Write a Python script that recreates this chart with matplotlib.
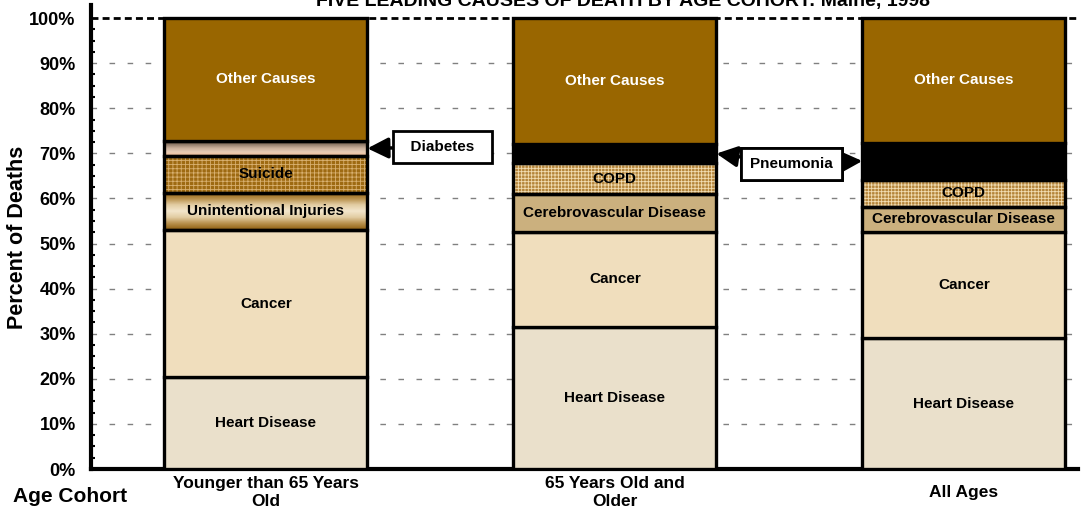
import numpy as np
import matplotlib
matplotlib.use("Agg")
import matplotlib.pyplot as plt
from matplotlib.colors import LinearSegmentedColormap

plt.rcParams['font.family'] = ['Liberation Sans', 'DejaVu Sans']
plt.rcParams['hatch.linewidth'] = 0.6

# ---------------- data ----------------
categories = ["Younger than 65 Years\nOld", "65 Years Old and\nOlder", "All Ages"]
series_names = ["Heart Disease", "Cancer", "Unintentional Injuries",
                "Cerebrovascular Disease", "Suicide", "COPD",
                "Diabetes", "Pneumonia", "Other Causes"]
heart = [20.3, 31.6, 29.0]
cancer = [32.7, 21.0, 23.6]
unintentional = [8.3, 0.0, 0.0]
cerebro = [0.0, 8.3, 5.6]
suicide = [8.1, 0.0, 0.0]
copd = [0.0, 6.9, 6.0]
diabetes = [3.4, 0.0, 0.0]
pneumonia = [0.0, 4.3, 8.2]
other = [27.2, 27.9, 27.6]
yticks = [0, 10, 20, 30, 40, 50, 60, 70, 80, 90, 100]
title = "FIVE LEADING CAUSES OF DEATH BY AGE COHORT: Maine, 1998"

values = [heart, cancer, unintentional, cerebro, suicide, copd,
          diabetes, pneumonia, other]

# ---------------- styles ----------------
styles = {
    "Heart Disease": dict(fc="#EAE0CB"),
    "Cancer": dict(fc="#F0DEBD"),
    "Unintentional Injuries": dict(grad=["#8E5E10", "#B8904C", "#E2CCA2", "#F3E6CC",
                                          "#E2CCA2", "#B8904C", "#8E5E10"]),
    "Cerebrovascular Disease": dict(fc="#CBB07E"),
    "Suicide": dict(fc="#9E6A12", hatch="++++", hc="#D8B070"),
    "COPD": dict(fc="#B4843A", hatch="+++++", hc="#F2DDB2"),
    "Diabetes": dict(grad=["#5E4A3C", "#8C7664", "#C8AE9A", "#E8CDB6", "#F4BE96"]),
    "Pneumonia": dict(fc="#000000"),
    "Other Causes": dict(fc="#996600", tc="white"),
}
labelled = {"Heart Disease", "Cancer", "Unintentional Injuries",
            "Cerebrovascular Disease", "Suicide", "COPD", "Other Causes"}

fig = plt.figure(figsize=(10.81, 5.15), dpi=100)
ax = fig.add_axes([91 / 1081, 46 / 515, 987 / 1081, 464 / 515])

x = np.arange(len(categories))
width = 0.582
bottom = np.zeros(len(categories))
edge_lw = 2.4
centers = {}

for name, vals in zip(series_names, values):
    vals = np.array(vals, dtype=float)
    st = styles[name]
    idx = np.where(vals > 0)[0]
    if len(idx) == 0:
        continue
    xs, hs, bs = x[idx], vals[idx], bottom[idx]
    if "hatch" in st:
        ax.bar(xs, hs, width, bottom=bs, color=st["fc"], edgecolor=st["hc"],
               hatch=st["hatch"], linewidth=0, zorder=2)
        ax.bar(xs, hs, width, bottom=bs, fill=False, edgecolor="black",
               linewidth=edge_lw, zorder=3)
    elif "grad" in st:
        cont = ax.bar(xs, hs, width, bottom=bs, color="none", edgecolor="black",
                      linewidth=edge_lw, zorder=3)
        cmap = LinearSegmentedColormap.from_list(name, st["grad"])
        for p in cont.patches:
            im = ax.imshow(np.linspace(0, 1, 64).reshape(-1, 1), cmap=cmap,
                           extent=[p.get_x(), p.get_x() + p.get_width(),
                                   p.get_y(), p.get_y() + p.get_height()],
                           origin="upper", aspect="auto", zorder=2)
            im.set_clip_path(p)
    else:
        ax.bar(xs, hs, width, bottom=bs, color=st["fc"], edgecolor="black",
               linewidth=edge_lw, zorder=3)
    for i in idx:
        centers[(name, i)] = bottom[i] + vals[i] / 2
        if name in labelled:
            ax.text(x[i], bottom[i] + vals[i] / 2, name, ha="center", va="center",
                    fontsize=11, fontweight="bold", color=st.get("tc", "black"),
                    zorder=5)
    bottom = bottom + vals

# ---------------- axes ----------------
ax.set_xlim(-0.501, 2.327)
ax.set_ylim(0, 102.9)
ax.set_yticks(yticks)
ax.set_yticklabels([f"{t}%" for t in yticks], fontsize=13, fontweight="bold")
ax.set_yticks(np.arange(0, 101, 2.5), minor=True)
ax.tick_params(axis="y", which="major", length=0, pad=11)
ax.tick_params(axis="y", which="minor", direction="in", length=3, width=1.5)
ax.set_xticks(x)
ax.set_xticklabels(categories, fontsize=12.5, fontweight="bold", linespacing=1.2)
for lab in ax.get_xticklabels():
    lab.set_va("center")
ax.tick_params(axis="x", length=0, pad=17)

for s in ["top", "right"]:
    ax.spines[s].set_visible(False)
ax.spines["left"].set_linewidth(3)
ax.spines["bottom"].set_linewidth(3)

for t in yticks[1:-1]:
    ax.axhline(t, color="#808080", lw=1.0, linestyle=(0, (4, 9)), zorder=1)
ax.axhline(100, color="black", lw=2.0, linestyle=(0, (2.5, 1.5)), zorder=1)

ax.set_ylabel("Percent of Deaths", fontsize=15.5, fontweight="bold")
ax.yaxis.set_label_coords(-0.064, 0.50)
fig.text(70 / 1081, (515 - 497) / 515, "Age Cohort", ha="center", va="center",
         fontsize=15, fontweight="bold")
fig.text(623 / 1081, (515 - 6) / 515, title, ha="center", va="baseline",
         fontsize=14, fontweight="bold")

# ---------------- callouts ----------------
box = dict(boxstyle="square,pad=0.6", fc="white", ec="black", lw=2)
arrow = dict(arrowstyle="-|>,head_length=0.9,head_width=0.45", color="black",
             lw=2.5, shrinkA=0, shrinkB=0, mutation_scale=14)
ax.annotate("  Diabetes  ", xy=(x[0] + width / 2, centers[("Diabetes", 0)]),
            xytext=(0.507, 71.4), ha="center", va="center", fontsize=11,
            fontweight="bold", bbox=box, arrowprops=arrow, zorder=6)
for i in (1, 2):
    edge = x[i] + width / 2 if i == 1 else x[i] - width / 2
    ax.annotate("Pneumonia", xy=(edge, centers[("Pneumonia", i)]),
                xytext=(1.505, 67.6), ha="center", va="center", fontsize=11,
                fontweight="bold", bbox=box, arrowprops=arrow, zorder=6)

fig.savefig("out.png", dpi=100)
